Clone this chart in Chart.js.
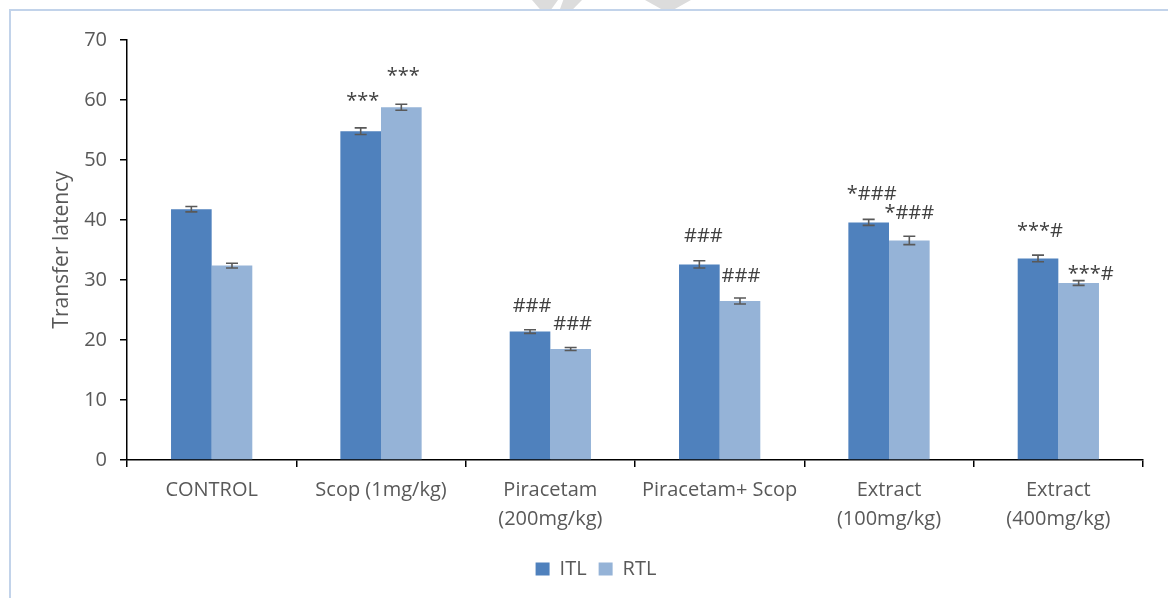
<!DOCTYPE html>
<html>
<head>
<meta charset="utf-8">
<script src="https://cdn.jsdelivr.net/npm/chart.js@4.4.1/dist/chart.umd.min.js"></script>
<style>
    html, body { margin: 0; padding: 0; width: 1168px; height: 598px; overflow: hidden; background: #fff; }
    #frame { position: absolute; left: 9px; top: 9px; width: 1200px; height: 640px;
             border-left: 2px solid #c2d3ea; border-top: 2px solid #c2d3ea; }
    .wm { position: absolute; top: 0; height: 9px; background: #dcdcdc; }
    #wrap { position: absolute; left: 10px; top: 10px; width: 1172px; height: 588px; }
</style>
</head>
<body>
<div class="wm" style="left:532px; width:26px; clip-path: polygon(0 0, 100% 0, 75% 100%, 30% 100%);"></div>
<div class="wm" style="left:560px; width:22px; clip-path: polygon(15% 0, 100% 0, 60% 100%, 0 100%);"></div>
<div class="wm" style="left:645px; width:46px; clip-path: polygon(0 0, 100% 0, 65% 100%, 35% 100%);"></div>
<div id="frame"></div>
<div id="wrap"><canvas id="chart"></canvas></div>
<script>
// 그룹 / 값
const categories = ['CONTROL', 'Scop (1mg/kg)', ['Piracetam', '(200mg/kg)'], 'Piracetam+ Scop',
    ['Extract', '(100mg/kg)'], ['Extract', '(400mg/kg)']];
const itlValues = [41.8, 54.8, 21.4, 32.6, 39.6, 33.6];
const itlErrors = [0.45, 0.55, 0.3, 0.6, 0.5, 0.55];
const rtlValues = [32.4, 58.8, 18.5, 26.5, 36.6, 29.5];
const rtlErrors = [0.4, 0.5, 0.25, 0.5, 0.7, 0.4];
const itlMarks = ['', '***', '###', '###', '*###', '***#'];
const rtlMarks = ['', '***', '###', '###', '*###', '***#'];
const yTicks = [0, 10, 20, 30, 40, 50, 60, 70];

// 유의성 표시 위치 보정 (px)
const markLift = [[0, 30, 25, 28, 28, 27], [0, 31, 25, 25, 27, 9]];
const markShift = [[0, 2, 2, 4, 3, 2], [0, 2, 2, 1, 0, 12]];

const textColor = '#595959';
const fontFamily = '"Open Sans", "Liberation Sans", sans-serif';

// 오차 막대 + 유의성 표시
const errorBarPlugin = {
    id: 'errorBars',
    afterDatasetsDraw(chart) {
        const ctx = chart.ctx;
        const y = chart.scales.y;
        chart.data.datasets.forEach((ds, di) => {
            const meta = chart.getDatasetMeta(di);
            meta.data.forEach((bar, i) => {
                const v = ds.data[i];
                const e = ds.errors[i];
                const top = y.getPixelForValue(v + e);
                const bottom = y.getPixelForValue(v - e);
                ctx.save();
                ctx.strokeStyle = '#595959';
                ctx.lineWidth = 1.6;
                ctx.beginPath();
                ctx.moveTo(bar.x, top);
                ctx.lineTo(bar.x, bottom);
                ctx.moveTo(bar.x - 6, top);
                ctx.lineTo(bar.x + 6, top);
                ctx.moveTo(bar.x - 6, bottom);
                ctx.lineTo(bar.x + 6, bottom);
                ctx.stroke();

                const mark = ds.marks[i];
                if (mark) {
                    ctx.fillStyle = '#404040';
                    ctx.font = '20px ' + fontFamily;
                    ctx.textAlign = 'center';
                    ctx.textBaseline = 'middle';
                    ctx.fillText(mark, bar.x + markShift[di][i], bar.y - markLift[di][i]);
                }
                ctx.restore();
            });
        });
    }
};

new Chart(document.getElementById('chart'), {
    type: 'bar',
    data: {
        labels: categories,
        datasets: [{
            label: 'ITL',
            data: itlValues,
            errors: itlErrors,
            marks: itlMarks,
            backgroundColor: '#4f81bd',
            borderWidth: 0
        }, {
            label: 'RTL',
            data: rtlValues,
            errors: rtlErrors,
            marks: rtlMarks,
            backgroundColor: '#95b3d7',
            borderWidth: 0
        }]
    },
    options: {
        responsive: true,
        maintainAspectRatio: false,
        animation: false,
        layout: { padding: { top: 30, right: 39, left: 39, bottom: 9 } },
        datasets: { bar: { categoryPercentage: 0.48, barPercentage: 1.0 } },
        plugins: {
            legend: {
                position: 'bottom',
                labels: {
                    boxWidth: 14,
                    boxHeight: 13,
                    padding: 12,
                    color: textColor,
                    font: { family: fontFamily, size: 20 }
                }
            },
            tooltip: { enabled: false }
        },
        scales: {
            x: {
                grid: { display: true, drawOnChartArea: false, drawTicks: true, tickLength: 7, color: '#000', lineWidth: 1.5 },
                border: { display: true, color: '#000', width: 1.5 },
                ticks: {
                    color: textColor,
                    padding: 9,
                    maxRotation: 0,
                    autoSkip: false,
                    font: { family: fontFamily, size: 20, lineHeight: 1.45 }
                },
                afterFit(scale) { scale.height = 87; }
            },
            y: {
                min: 0,
                max: 70,
                afterBuildTicks(scale) { scale.ticks = yTicks.map(v => ({ value: v })); },
                grid: { display: true, drawOnChartArea: false, drawTicks: true, tickLength: 7, color: '#000', lineWidth: 1.5 },
                border: { display: true, color: '#000', width: 1.5 },
                ticks: {
                    color: textColor,
                    padding: 13,
                    font: { family: fontFamily, size: 20 }
                },
                title: {
                    display: true,
                    text: 'Transfer latency',
                    color: textColor,
                    padding: { top: 0, bottom: 0 },
                    font: { family: fontFamily, size: 21 }
                },
                afterFit(scale) { scale.width = 78; }
            }
        }
    },
    plugins: [errorBarPlugin]
});
</script>
</body>
</html>
